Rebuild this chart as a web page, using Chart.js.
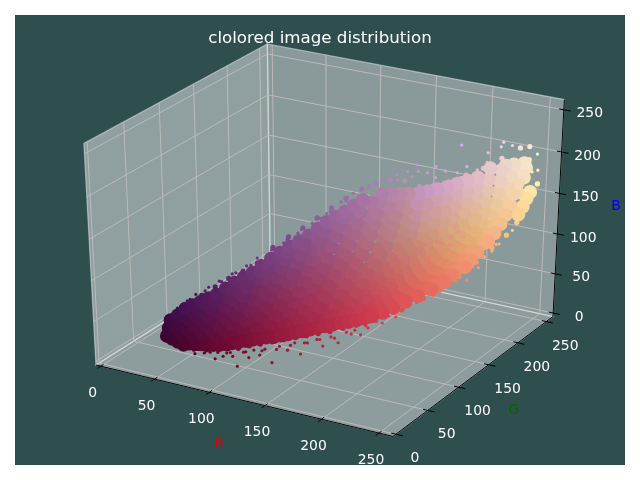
<!DOCTYPE html>
<html>
<head>
<meta charset="utf-8">
<title>clolored image distribution</title>
<script src="https://cdn.jsdelivr.net/npm/chart.js@4"></script>
<style>
  html, body { margin: 0; padding: 0; background: #fff; }
  canvas { display: block; }
</style>
</head>
<body>
<canvas id="cloud" width="640" height="480"></canvas>
<script>
const chartTitle = 'clolored image distribution';
const tickValues = [0, 50, 100, 150, 200, 250];
const axisMin = -4.5;
const axisMax = 262;

const redLevels = [60, 65, 70, 75, 80, 85, 90, 95, 100, 105, 110, 115, 120, 125, 130, 135, 140, 145, 150, 155, 160, 165, 170, 175, 180, 185, 190, 195, 200, 205, 210, 215, 220, 225, 230, 235, 240, 245, 250, 255];
const greenByRed = [
  [0, 3, 6],
  [0, 2, 5, 9],
  [0, 3, 6, 9, 12],
  [0, 2, 6, 10, 13, 15],
  [0, 4, 8, 12, 15, 18],
  [1, 4, 8, 12, 16, 19, 22],
  [2, 6, 10, 14, 18, 22, 26],
  [2, 5, 10, 15, 20, 25, 29, 31],
  [3, 8, 13, 18, 23, 28, 32, 36],
  [4, 7, 12, 17, 23, 28, 33, 38, 41],
  [5, 10, 15, 21, 27, 32, 37, 42, 46],
  [6, 11, 17, 23, 29, 35, 41, 46, 49, 51],
  [8, 14, 20, 26, 32, 38, 44, 49, 53, 57],
  [10, 15, 21, 28, 34, 40, 46, 52, 57, 60, 62],
  [12, 18, 25, 32, 38, 44, 50, 56, 61, 65, 68],
  [13, 19, 25, 32, 39, 46, 52, 58, 64, 69, 72, 74],
  [15, 22, 29, 36, 43, 50, 56, 62, 68, 73, 80],
  [17, 23, 30, 37, 44, 51, 58, 65, 71, 77, 82, 85],
  [20, 27, 34, 41, 48, 55, 62, 69, 75, 80, 85, 90],
  [22, 29, 35, 42, 49, 56, 63, 70, 77, 83, 88, 92, 95],
  [25, 32, 39, 46, 53, 60, 67, 74, 81, 87, 92, 97, 100],
  [27, 33, 40, 48, 56, 64, 71, 79, 86, 92, 97, 101, 105],
  [30, 37, 44, 52, 60, 68, 76, 84, 91, 97, 102, 106, 110],
  [33, 40, 48, 56, 64, 72, 80, 88, 96, 102, 107, 111, 115],
  [36, 44, 52, 60, 68, 76, 84, 92, 100, 106, 111, 115, 120, 122],
  [39, 46, 54, 62, 71, 80, 89, 98, 107, 114, 118, 122, 125, 127],
  [42, 50, 58, 67, 76, 85, 94, 103, 112, 118, 122, 126, 130, 132],
  [45, 52, 61, 71, 81, 91, 100, 110, 120, 128, 132, 134, 136, 137],
  [48, 57, 66, 76, 86, 96, 106, 116, 126, 133, 136, 138, 141, 143],
  [51, 60, 70, 80, 90, 101, 112, 123, 133, 141, 145, 147, 148, 149],
  [55, 65, 75, 85, 95, 106, 117, 128, 139, 147, 150, 152, 154, 155],
  [62, 72, 82, 93, 104, 115, 126, 137, 147, 154, 157, 159, 160, 161],
  [70, 80, 90, 101, 112, 123, 134, 145, 155, 161, 163, 165, 167, 168],
  [80, 89, 99, 110, 121, 132, 143, 153, 163, 169, 172, 174, 175, 176],
  [90, 100, 110, 121, 132, 143, 154, 165, 173, 177, 179, 181, 182, 183],
  [102, 112, 122, 133, 144, 155, 165, 174, 181, 185, 188, 190, 192, 194],
  [115, 125, 135, 146, 157, 168, 178, 186, 191, 195, 198, 201, 203],
  [137, 147, 157, 167, 177, 186, 193, 198, 202, 206, 210, 214],
  [165, 175, 185, 193, 200, 206, 212, 217, 222],
  [205, 212, 218, 224]
];
const blueByRed = [
  [50, 58, 66],
  [48, 54, 62, 72],
  [46, 55, 64, 73, 80],
  [44, 51, 60, 69, 78, 84],
  [47, 56, 65, 74, 82, 88],
  [47, 52, 61, 70, 78, 86, 92],
  [48, 57, 66, 75, 82, 90, 96],
  [49, 53, 62, 71, 80, 88, 96, 102],
  [50, 59, 68, 77, 86, 94, 101, 108],
  [51, 56, 65, 74, 83, 92, 100, 108, 113],
  [53, 62, 71, 80, 89, 97, 105, 112, 118],
  [55, 60, 69, 78, 87, 96, 105, 113, 120, 125],
  [57, 66, 75, 84, 93, 102, 111, 119, 126, 132],
  [59, 65, 74, 83, 92, 101, 110, 119, 127, 133, 138],
  [61, 70, 79, 88, 97, 106, 115, 124, 132, 139, 144],
  [63, 69, 78, 87, 96, 105, 114, 123, 132, 140, 146, 149],
  [65, 74, 83, 92, 101, 110, 119, 128, 137, 146, 154],
  [66, 72, 81, 90, 99, 108, 117, 126, 136, 146, 155, 161],
  [68, 77, 86, 95, 104, 113, 122, 131, 141, 151, 160, 168],
  [70, 76, 85, 94, 103, 112, 121, 130, 140, 150, 160, 168, 173],
  [72, 81, 90, 99, 108, 117, 126, 135, 145, 155, 165, 173, 178],
  [74, 80, 89, 98, 107, 115, 123, 131, 140, 150, 160, 172, 184],
  [76, 85, 94, 103, 112, 120, 128, 136, 146, 156, 166, 178, 190],
  [78, 84, 92, 100, 108, 116, 124, 132, 141, 151, 161, 172, 186],
  [80, 88, 96, 104, 112, 120, 128, 136, 144, 154, 164, 175, 186, 194],
  [82, 87, 94, 101, 108, 115, 122, 129, 137, 146, 156, 166, 178, 193],
  [84, 91, 98, 105, 112, 119, 126, 133, 140, 150, 160, 170, 181, 192],
  [85, 90, 96, 103, 109, 115, 121, 127, 134, 142, 152, 163, 175, 191],
  [87, 94, 100, 106, 112, 118, 124, 130, 137, 146, 157, 168, 179, 190],
  [89, 94, 100, 105, 110, 116, 121, 127, 133, 141, 151, 163, 176, 191],
  [91, 97, 103, 108, 113, 118, 123, 129, 136, 144, 155, 167, 180, 192],
  [93, 98, 102, 107, 111, 116, 120, 126, 133, 142, 154, 166, 179, 193],
  [96, 101, 105, 110, 114, 118, 123, 129, 136, 146, 158, 170, 183, 195],
  [100, 103, 107, 111, 115, 120, 125, 130, 138, 148, 160, 172, 184, 196],
  [103, 107, 110, 114, 118, 122, 127, 133, 142, 153, 165, 177, 188, 198],
  [106, 109, 112, 116, 120, 125, 130, 137, 146, 157, 169, 181, 193, 205],
  [110, 113, 116, 120, 124, 129, 135, 143, 153, 164, 176, 188, 200],
  [118, 122, 126, 131, 136, 143, 151, 160, 170, 180, 191, 203],
  [136, 141, 147, 154, 163, 173, 184, 194, 202],
  [150, 156, 163, 168]
];

// the tan ridge that lies behind the columns above
const ridgeR = [160, 160, 160, 170, 170, 170, 180, 180, 180, 180, 190, 190, 190, 190, 190, 200, 200, 200, 200, 200,
  210, 210, 210, 210, 210, 220, 220, 220, 220, 220, 230, 230, 230, 230, 240, 240, 240, 240, 250, 250, 250];
const ridgeG = [100, 105, 108, 105, 118, 112, 118, 125, 128, 128, 128, 135, 138, 138, 138, 138, 148, 150, 150, 150,
  150, 160, 162, 163, 163, 163, 172, 175, 176, 176, 178, 188, 190, 190, 196, 205, 208, 210, 212, 222, 225];
const ridgeB = [130, 145, 158, 125, 138, 150, 125, 135, 148, 162, 128, 140, 152, 165, 178, 133, 145, 158, 170, 182,
  140, 150, 162, 174, 186, 145, 155, 168, 180, 192, 150, 165, 178, 190, 160, 175, 190, 202, 172, 185, 195];

// the rim of the dense part
const rimR = [58, 65, 72, 80, 88, 96, 104, 112, 120, 128, 136, 144, 152, 160, 168, 176, 184, 192, 200, 208, 216, 224, 232, 238, 244, 248, 251, 253, 254, 255, 255, 255,
  58, 64, 72, 80, 88, 96, 104, 112, 120, 128, 136, 144, 152, 160, 168, 176, 184, 192, 200, 208, 216, 224, 232, 240, 246, 250, 252, 252];
const rimG = [0, 0, 0, 0, 1, 2, 3, 5, 7, 10, 13, 17, 21, 25, 28, 32, 36, 42, 48, 55, 63, 76, 95, 110, 130, 150, 170, 190, 205, 218, 228, 236,
  4, 10, 15, 20, 27, 34, 42, 50, 60, 70, 78, 86, 94, 102, 112, 120, 128, 136, 145, 152, 162, 175, 188, 203, 222, 230, 226, 226];
const rimB = [46, 43, 42, 42, 43, 44, 46, 48, 50, 54, 57, 60, 63, 66, 69, 72, 75, 78, 81, 85, 88, 92, 98, 102, 110, 118, 126, 132, 140, 152, 162, 172,
  64, 76, 86, 95, 104, 113, 120, 128, 144, 154, 163, 173, 183, 193, 201, 206, 209, 206, 197, 197, 199, 203, 207, 214, 219, 218, 205, 192];

// pink grains on top of the orange part
const speckR = [205, 210, 215, 220, 225, 218, 228, 212, 222, 232, 208, 200, 230, 224, 216, 236, 240, 228, 234, 220];
const speckG = [100, 110, 120, 128, 135, 112, 145, 118, 122, 150, 105, 98, 140, 130, 126, 160, 170, 150, 155, 138];
const speckB = [135, 132, 135, 138, 142, 128, 145, 140, 130, 150, 128, 125, 138, 146, 142, 150, 160, 155, 142, 150];

// loose points around the edge of the cloud
const looseR = [62, 68, 74, 78, 85, 88, 93, 97, 102, 108, 112, 116, 120, 124, 128, 132, 136, 140, 145, 150, 156, 160, 165, 170, 176, 180, 186, 190, 195, 200, 206, 212, 218, 224, 230,
  240, 246, 250, 252, 253, 254, 255, 255, 255, 253, 252, 254,
  58, 64, 70, 76, 84, 90, 98, 106, 112, 120, 128, 136, 146, 152, 160,
  170, 178, 186, 192, 198, 204, 210, 200, 208, 214, 220, 226, 232, 236, 222,
  60, 66, 72, 82, 92, 100, 108, 118, 126, 134, 142, 150, 158, 164, 172, 180, 188, 196,
  236, 243, 247, 250, 252, 254, 255, 250, 248, 251,
  66, 72, 84, 94, 104, 114, 126, 138, 148, 158, 168, 178, 188, 198, 208, 216, 222, 205,
  232, 238, 244, 240];
const looseG = [0, 0, 0, 1, 0, 2, 1, 3, 2, 4, 3, 5, 5, 8, 9, 10, 12, 13, 15, 18, 20, 24, 24, 26, 30, 32, 34, 38, 42, 46, 52, 58, 66, 78, 88,
  112, 140, 158, 175, 190, 205, 215, 228, 238, 240, 240, 228,
  3, 10, 15, 18, 24, 30, 36, 44, 50, 58, 68, 76, 88, 92, 102,
  118, 125, 134, 140, 146, 150, 152, 140, 155, 160, 168, 172, 178, 186, 170,
  6, 12, 16, 22, 30, 38, 47, 55, 66, 74, 82, 90, 98, 106, 116, 124, 132, 140,
  104, 126, 146, 160, 180, 198, 212, 150, 135, 170,
  0, 0, 0, 2, 3, 5, 8, 12, 17, 21, 25, 31, 36, 44, 52, 60, 70, 46,
  195, 205, 212, 205];
const looseB = [42, 40, 38, 40, 36, 42, 39, 40, 34, 38, 44, 40, 29, 46, 40, 50, 44, 52, 36, 56, 52, 60, 48, 62, 66, 58, 70, 62, 74, 76, 80, 84, 88, 92, 96,
  104, 112, 122, 128, 132, 142, 152, 165, 172, 186, 205, 190,
  70, 80, 88, 96, 104, 110, 118, 126, 134, 142, 152, 162, 172, 180, 190,
  200, 208, 212, 215, 214, 212, 220, 225, 205, 212, 208, 215, 210, 216, 240,
  72, 82, 90, 100, 110, 119, 126, 136, 148, 158, 168, 178, 190, 198, 204, 212, 208, 210,
  98, 106, 114, 120, 126, 134, 146, 112, 104, 122,
  44, 43, 40, 41, 42, 44, 47, 50, 52, 58, 62, 66, 68, 72, 78, 82, 86, 72,
  222, 226, 226, 232];

// view of the 3d box, camera as in a default 3d axes
const elev = 30 * Math.PI / 180;
const azim = -60 * Math.PI / 180;
const camDist = 10;
const n = [Math.cos(elev) * Math.cos(azim), Math.cos(elev) * Math.sin(azim), Math.sin(elev)];
const u = [-Math.sin(azim), Math.cos(azim), 0];
const v = [n[1] * u[2] - n[2] * u[1], n[2] * u[0] - n[0] * u[2], n[0] * u[1] - n[1] * u[0]];

function dot(a, b) {
  return a[0] * b[0] + a[1] * b[1] + a[2] * b[2];
}
function project(r, g, b) {
  const span = axisMax - axisMin;
  const d = [(r - axisMin) / span - 0.5, (g - axisMin) / span - 0.5, (b - axisMin) / span - 0.5];
  const f = camDist / (camDist - dot(d, n));
  return { x: dot(d, u) * f, y: dot(d, v) * f, depth: dot(d, n) };
}

// polyline made of separate segments, NaN breaks the line
function segments(list) {
  const out = [];
  list.forEach(s => {
    out.push(project(s[0], s[1], s[2]), project(s[3], s[4], s[5]), { x: NaN, y: NaN });
  });
  return out;
}

const lo = axisMin;
const hi = axisMax;
const gridSegs = [];
const tickSegs = [];
tickValues.forEach(t => {
  gridSegs.push([t, lo, lo, t, hi, lo], [t, hi, lo, t, hi, hi]);
  gridSegs.push([lo, t, lo, hi, t, lo], [lo, t, lo, lo, t, hi]);
  gridSegs.push([lo, hi, t, hi, hi, t], [lo, lo, t, lo, hi, t]);
  tickSegs.push([t, lo - 5, lo, t, lo + 4, lo]);
  tickSegs.push([hi + 6, t, lo, hi - 4, t, lo]);
  tickSegs.push([hi + 6, hi, t, hi - 4, hi, t]);
});
const axisSegs = [[lo, lo, lo, hi, lo, lo], [hi, lo, lo, hi, hi, lo], [hi, hi, lo, hi, hi, hi]];

// the picture's colours run a little less blue than the position says
function blueFactor(r, b) {
  if (r < 90) return 1;
  if (r < 170) return 1 - (r - 90) / 80 * 0.13;
  const base = r < 230 ? 0.87 : 0.87 + (r - 230) / 25 * 0.1;
  if (r < 200) return base;
  const pale = Math.max(0, Math.min(1, (b - 140) / 50));
  return base + pale * (1 - base);
}
function pointColor(r, g, b) {
  return `rgb(${Math.round(r * 0.98)},${Math.min(255, g + 5)},${Math.round(b * blueFactor(r, b))})`;
}

function cloudPoints(rs, gs, bs) {
  const pts = [];
  rs.forEach((r, i) => {
    const p = project(r, gs[i], bs[i]);
    p.color = pointColor(r, gs[i], bs[i]);
    pts.push(p);
  });
  pts.sort((a, b) => a.depth - b.depth);
  return pts;
}

const coreR = ridgeR.slice();
const coreG = ridgeG.slice();
const coreB = ridgeB.slice();
redLevels.forEach((r, i) => {
  greenByRed[i].forEach((g, j) => {
    coreR.push(r);
    coreG.push(g);
    coreB.push(blueByRed[i][j]);
  });
});
const corePts = cloudPoints(coreR, coreG, coreB);
const rimPts = cloudPoints(rimR, rimG, rimB);
const loosePts = cloudPoints(looseR, looseG, looseB);
const speckPts = cloudPoints(speckR, speckG, speckB);

const panePlugin = {
  id: 'panes',
  beforeDatasetsDraw(chart) {
    const ctx = chart.ctx;
    const sx = chart.scales.x;
    const sy = chart.scales.y;
    ctx.save();
    ctx.fillStyle = '#2f4f4f';
    ctx.fillRect(15, 15, 610, 450);
    const panes = [
      { c: [[lo, lo, lo], [lo, hi, lo], [lo, hi, hi], [lo, lo, hi]], fill: 'rgba(242,242,242,0.5)' },
      { c: [[lo, hi, lo], [hi, hi, lo], [hi, hi, hi], [lo, hi, hi]], fill: 'rgba(230,230,230,0.5)' },
      { c: [[lo, lo, lo], [hi, lo, lo], [hi, hi, lo], [lo, hi, lo]], fill: 'rgba(236,236,236,0.5)' }
    ];
    panes.forEach(p => {
      ctx.beginPath();
      p.c.forEach((c, i) => {
        const q = project(c[0], c[1], c[2]);
        const px = sx.getPixelForValue(q.x);
        const py = sy.getPixelForValue(q.y);
        if (i === 0) ctx.moveTo(px, py);
        else ctx.lineTo(px, py);
      });
      ctx.closePath();
      ctx.fillStyle = p.fill;
      ctx.fill();
      ctx.strokeStyle = 'rgba(242,242,242,0.5)';
      ctx.lineWidth = 1.2;
      ctx.stroke();
    });
    ctx.restore();
  }
};

const textPlugin = {
  id: 'texts',
  afterDatasetsDraw(chart) {
    const ctx = chart.ctx;
    const sx = chart.scales.x;
    const sy = chart.scales.y;
    const put = (q, dx, dy, s) => {
      ctx.fillText(s, sx.getPixelForValue(q.x) + dx, sy.getPixelForValue(q.y) + dy);
    };
    ctx.save();
    ctx.textAlign = 'center';
    ctx.textBaseline = 'middle';
    ctx.fillStyle = '#fff';
    ctx.font = "13.9px 'DejaVu Sans'";
    tickValues.forEach(t => {
      put(project(t, lo, lo), -8, 27, String(t));
      put(project(hi, t, lo), 19, 24.5, String(t));
      put(project(hi, hi, t), 26, 4, String(t));
    });
    ctx.font = "16.67px 'DejaVu Sans'";
    ctx.fillText(chartTitle, 320, 38.5);
    ctx.font = "13.9px 'DejaVu Sans'";
    ctx.fillStyle = '#e00000';
    ctx.fillText('R', 219, 443);
    ctx.fillStyle = '#006400';
    ctx.fillText('G', 514, 410);
    ctx.fillStyle = '#0000ff';
    ctx.fillText('B', 616, 206);
    ctx.restore();
  }
};

new Chart(document.getElementById('cloud').getContext('2d'), {
  type: 'scatter',
  data: {
    datasets: [
      { data: segments(axisSegs.concat(tickSegs)), showLine: true, pointRadius: 0, borderColor: '#000', borderWidth: 1, order: 1 },
      { data: speckPts, pointRadius: 2.2, pointBorderWidth: 0, pointBackgroundColor: speckPts.map(p => p.color), order: 2 },
      { data: corePts, pointRadius: 7, pointBorderWidth: 0, pointBackgroundColor: corePts.map(p => p.color), order: 3 },
      { data: rimPts, pointRadius: 2.6, pointBorderWidth: 0, pointBackgroundColor: rimPts.map(p => p.color), order: 4 },
      { data: loosePts, pointRadius: 1.6, pointBorderWidth: 0, pointBackgroundColor: loosePts.map(p => p.color), order: 5 },
      { data: segments(gridSegs), showLine: true, pointRadius: 0, borderColor: '#bdb9b9', borderWidth: 1, order: 6 }
    ]
  },
  options: {
    responsive: false,
    animation: false,
    devicePixelRatio: 1,
    events: [],
    layout: { padding: 0, autoPadding: false },
    plugins: { legend: { display: false }, tooltip: { enabled: false } },
    scales: {
      x: { type: 'linear', display: false, min: -0.9568, max: 0.9101 },
      y: { type: 'linear', display: false, min: -0.9743, max: 0.9229 }
    }
  },
  plugins: [panePlugin, textPlugin]
});
</script>
</body>
</html>
